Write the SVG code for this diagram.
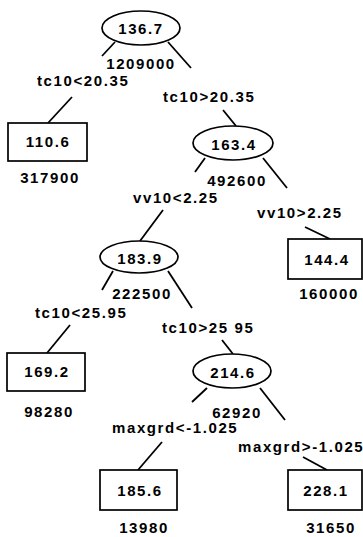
<svg xmlns="http://www.w3.org/2000/svg" width="363" height="537" viewBox="0 0 363 537">
<style>
text{font-family:"Liberation Sans",Arial,sans-serif;font-weight:bold;font-size:15px;letter-spacing:1.6px;fill:#000}
.c{text-anchor:middle}
.sh{fill:#fff;stroke:#000;stroke-width:1.7}
.ln{stroke:#000;stroke-width:1.8;fill:none}
</style>
<rect width="363" height="537" fill="#fff"/>
<g id="connectors">
<line class="ln" x1="115" y1="42" x2="102" y2="56"/>
<line class="ln" x1="168" y1="42" x2="191" y2="68"/>
<line class="ln" x1="72" y1="97" x2="48" y2="123"/>
<line class="ln" x1="223" y1="110" x2="236" y2="126"/>
<line class="ln" x1="205" y1="158" x2="195" y2="172"/>
<line class="ln" x1="263" y1="158" x2="287" y2="188"/>
<line class="ln" x1="163" y1="210" x2="140" y2="241"/>
<line class="ln" x1="305" y1="227" x2="330" y2="239"/>
<line class="ln" x1="113" y1="271" x2="102" y2="290"/>
<line class="ln" x1="168" y1="271" x2="192" y2="308"/>
<line class="ln" x1="70" y1="325" x2="47" y2="353"/>
<line class="ln" x1="222" y1="340" x2="233" y2="354"/>
<line class="ln" x1="207" y1="388" x2="192" y2="402"/>
<line class="ln" x1="260" y1="388" x2="285" y2="420"/>
<line class="ln" x1="162" y1="442" x2="138" y2="470"/>
<line class="ln" x1="303" y1="457" x2="327" y2="470"/>
<text x="37" y="86">tc10&lt;20.35</text>
<text x="163" y="102">tc10&gt;20.35</text>
<text x="133" y="203">vv10&lt;2.25</text>
<text x="257" y="218">vv10&gt;2.25</text>
<text x="35" y="318">tc10&lt;25.95</text>
<text x="162" y="333">tc10&gt;25 95</text>
<text x="112" y="433">maxgrd&lt;-1.025</text>
<text x="238" y="452">maxgrd&gt;-1.025</text>
</g>
<g id="n1">
<ellipse class="sh" cx="141" cy="28" rx="39" ry="17"/>
<text class="c" x="141" y="34">136.7</text>
<text class="c" x="141" y="69">1209000</text>
</g>
<g id="n2">
<rect class="sh" x="8" y="123" width="79" height="38"/>
<text class="c" x="48" y="147">110.6</text>
<text class="c" x="50" y="183">317900</text>
</g>
<g id="n3">
<ellipse class="sh" cx="233" cy="143" rx="40" ry="17"/>
<text class="c" x="234" y="150">163.4</text>
<text class="c" x="237" y="186">492600</text>
</g>
<g id="n6">
<ellipse class="sh" cx="139" cy="257" rx="39" ry="16"/>
<text class="c" x="140" y="264">183.9</text>
<text class="c" x="142" y="299">222500</text>
</g>
<g id="n7">
<rect class="sh" x="288" y="239" width="74" height="40"/>
<text class="c" x="327" y="265">144.4</text>
<text class="c" x="329" y="299">160000</text>
</g>
<g id="n12">
<rect class="sh" x="7" y="353" width="78" height="38"/>
<text class="c" x="47" y="377">169.2</text>
<text class="c" x="49" y="417">98280</text>
</g>
<g id="n13">
<ellipse class="sh" cx="232" cy="371" rx="39" ry="17"/>
<text class="c" x="233" y="378">214.6</text>
<text class="c" x="237" y="418">62920</text>
</g>
<g id="n26">
<rect class="sh" x="100" y="470" width="77" height="40"/>
<text class="c" x="140" y="496">185.6</text>
<text class="c" x="144" y="533">13980</text>
</g>
<g id="n27">
<rect class="sh" x="288" y="470" width="74" height="40"/>
<text class="c" x="326" y="496">228.1</text>
<text class="c" x="331" y="533">31650</text>
</g>
</svg>
